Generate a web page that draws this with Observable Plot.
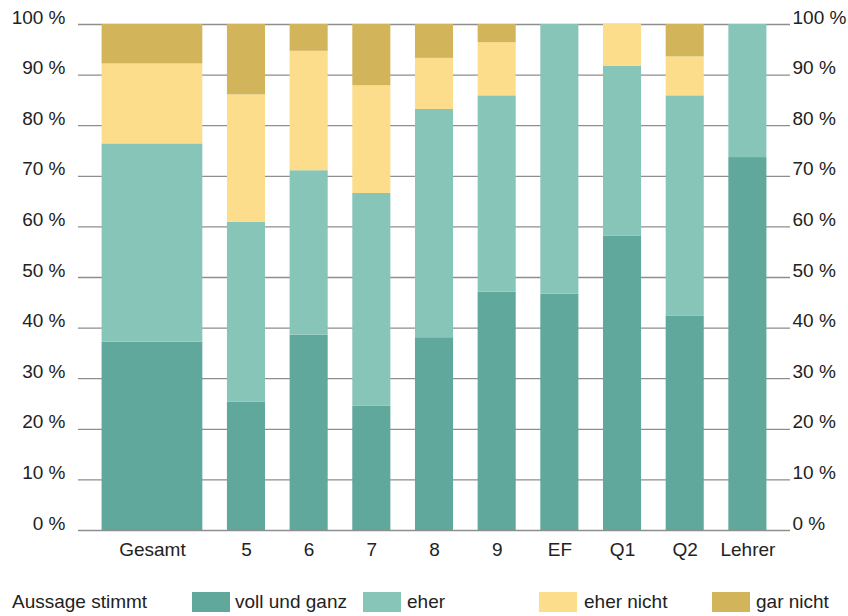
<!DOCTYPE html>
<html>
<head>
<meta charset="utf-8">
<script src="https://cdn.jsdelivr.net/npm/d3@7"></script>
<script src="https://cdn.jsdelivr.net/npm/@observablehq/plot@0.6"></script>
<style>
  html, body { margin: 0; padding: 0; background: #fff; }
  body { width: 848px; height: 616px; position: relative; overflow: hidden;
         font-family: "Liberation Sans", Arial, sans-serif; color: #222; }
  #chart { position: absolute; left: 0; top: 0; }
  .lg { position: absolute; font-size: 19px; line-height: 20px; top: 592px; white-space: nowrap; }
  .sw { position: absolute; top: 592px; width: 38px; height: 20px; }
</style>
</head>
<body>
<div id="chart"></div>
<div id="legend"></div>
<script>
// ---- data ----
const categories = ["Gesamt", "5", "6", "7", "8", "9", "EF", "Q1", "Q2", "Lehrer"];
const slotWidths = [2, 1, 1, 1, 1, 1, 1, 1, 1, 1];   // Gesamt bar is double width
const seriesNames = ["voll und ganz", "eher", "eher nicht", "gar nicht"];
const vollUndGanz = [37.2, 25.4, 38.6, 24.6, 38.1, 47.1, 46.7, 58.2, 42.4, 73.7];
const eher        = [39.2, 35.5, 32.5, 42.0, 45.1, 38.8, 53.3, 33.5, 43.5, 26.3];
const eherNicht   = [15.8, 25.2, 23.6, 21.3, 10.1, 10.5,  0.0,  8.3,  7.7,  0.0];
const garNicht    = [ 7.8, 13.9,  5.3, 12.1,  6.7,  3.6,  0.0,  0.0,  6.4,  0.0];
const yTicks = [0, 10, 20, 30, 40, 50, 60, 70, 80, 90, 100];
const colors = ["#5fa89b", "#87c5b8", "#fbdd8b", "#d2b55b"];
const legendTitle = "Aussage stimmt";

// ---- build table ----
const seriesValues = [vollUndGanz, eher, eherNicht, garNicht];
const rows = [];
const labels = [];
let start = 0;
categories.forEach((cat, i) => {
  const end = start + slotWidths[i];
  labels.push({cat, center: (start + end) / 2});
  let acc = 0;
  seriesNames.forEach((s, j) => {
    const v = seriesValues[j][i];
    if (v > 0) rows.push({cat, series: s, x1: start, x2: end, y1: acc, y2: acc + v});
    acc += v;
  });
  start = end;
});
const total = start;

const font = "'Liberation Sans', Arial, sans-serif";
const plot = Plot.plot({
  width: 848,
  height: 570,
  marginLeft: 78,
  marginRight: 58,
  marginTop: 24,
  marginBottom: 40,
  style: {fontFamily: font, fontSize: "19px", color: "#222", background: "#fff"},
  x: {domain: [-0.18, total + 0.18], axis: null},
  y: {domain: [0, 100], axis: null},
  color: {domain: seriesNames, range: colors},
  marks: [
    Plot.ruleY(yTicks.filter(d => d > 0), {y: d => d, stroke: "#8e8e8e", strokeWidth: 1.3}),
    Plot.rectY(rows, {x1: "x1", x2: "x2", y1: "y1", y2: "y2", fill: "series",
      insetLeft: 12.3, insetRight: 12.3}),
    Plot.ruleY([0], {stroke: "#8e8e8e", strokeWidth: 1.5}),
    Plot.axisY(yTicks, {anchor: "left", tickSize: 0, tickPadding: 13, dy: -7,
      tickFormat: d => d + " %", fontSize: 19, fill: "#222"}),
    Plot.axisY(yTicks, {anchor: "right", tickSize: 0, tickPadding: 2, dy: -7,
      tickFormat: d => d + " %", fontSize: 19, fill: "#222"}),
    Plot.text(labels, {x: "center", y: () => 0, text: "cat", lineAnchor: "top",
      dy: 12, fontSize: 19, fill: "#222"})
  ]
});
document.getElementById("chart").appendChild(plot);

// ---- legend ----
const lg = document.getElementById("legend");
const swatchX = [192, 363, 539, 712];
const labelX = [235, 407, 584, 756];
const t = document.createElement("span");
t.className = "lg"; t.style.left = "12px"; t.textContent = legendTitle;
lg.appendChild(t);
seriesNames.forEach((s, j) => {
  const sw = document.createElement("span");
  sw.className = "sw"; sw.style.left = swatchX[j] + "px"; sw.style.background = colors[j];
  lg.appendChild(sw);
  const l = document.createElement("span");
  l.className = "lg"; l.style.left = labelX[j] + "px"; l.textContent = s;
  lg.appendChild(l);
});
</script>
</body>
</html>
